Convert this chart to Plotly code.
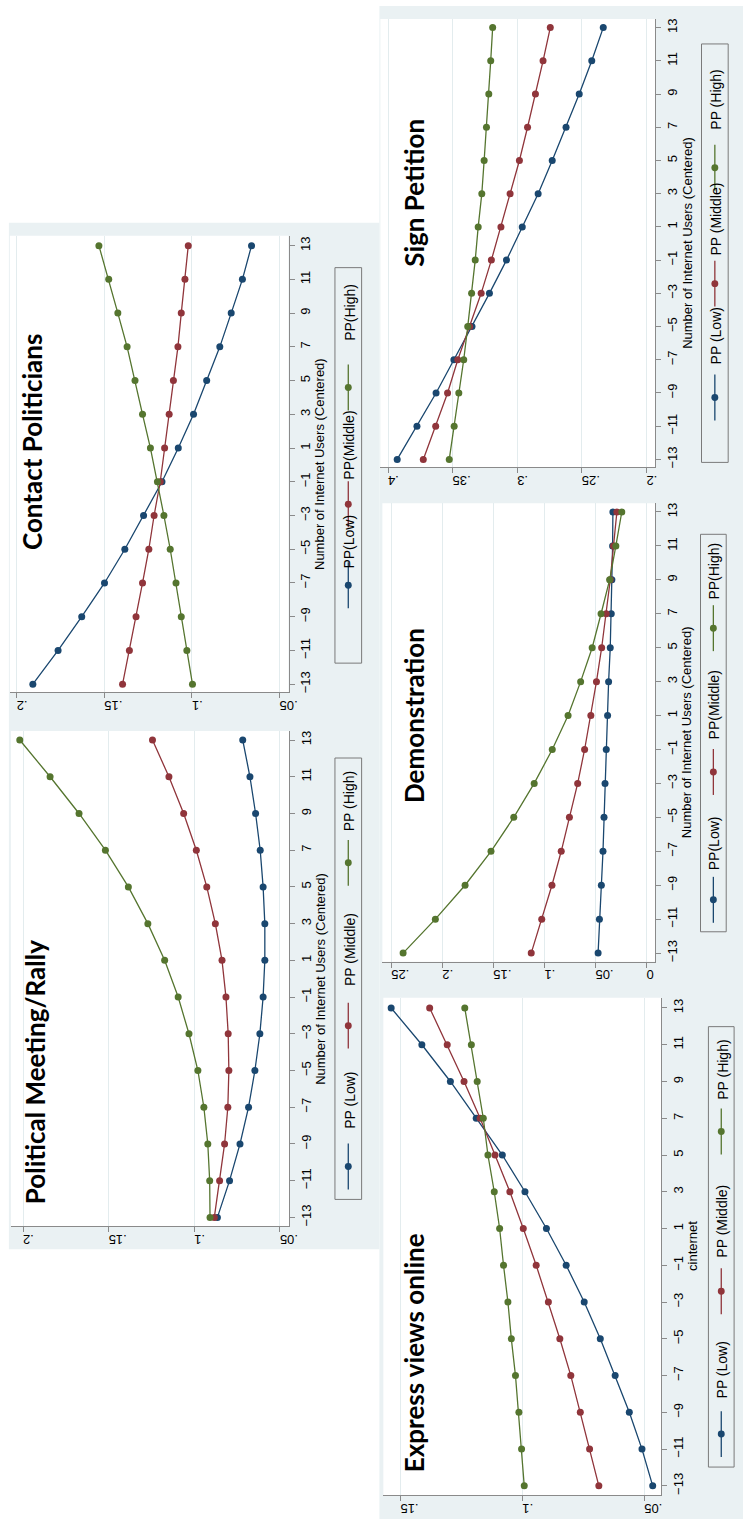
import plotly.graph_objects as go

# ---------------------------------------------------------------- data
internet = [-13, -11, -9, -7, -5, -3, -1, 1, 3, 5, 7, 9, 11, 13]

rally_low = [.0865, .0794, .0733, .0683, .0646, .0617, .0598, .0588, .0588, .0598, .0615, .0642, .0675, .0717]
rally_mid = [.0883, .0852, .0823, .0804, .0798, .0802, .0815, .0838, .0877, .0927, .0988, .1062, .1148, .1244]
rally_high = [.0908, .0910, .0921, .0944, .0979, .1031, .1094, .1173, .1271, .1385, .1519, .1673, .1842, .2019]

contact_low = [.1908, .1764, .1629, .1499, .1383, .1276, .1171, .1078, .0991, .0916, .0841, .0776, .0712, .0660]
contact_mid = [.1396, .1357, .1319, .1282, .1246, .1216, .1181, .1156, .1130, .1106, .1080, .1061, .1040, .1021]
contact_high = [.0997, .1029, .1061, .1091, .1124, .1160, .1197, .1237, .1282, .1325, .1370, .1423, .1475, .1531]

petition_low = [.3929, .3776, .3628, .3490, .3350, .3215, .3083, .2961, .2838, .2729, .2622, .2520, .2423, .2334]
petition_mid = [.3727, .3631, .3539, .3460, .3368, .3279, .3200, .3126, .3055, .2983, .2920, .2859, .2800, .2744]
petition_high = [.3526, .3488, .3452, .3414, .3383, .3353, .3325, .3302, .3274, .3256, .3238, .3220, .3205, .3190]

demo_low = [.0474, .0461, .0442, .0426, .0416, .0406, .0394, .0381, .0371, .0355, .0345, .0339, .0332, .0329]
demo_mid = [.1129, .1026, .0926, .0835, .0755, .0674, .0606, .0545, .0490, .0439, .0394, .0355, .0323, .0290]
demo_high = [.2384, .2068, .1777, .1523, .1300, .1100, .0923, .0768, .0645, .0532, .0445, .0361, .0300, .0242]

express_low = [.0465, .0509, .0561, .0619, .0680, .0746, .0820, .0901, .0989, .1082, .1189, .1295, .1412, .1538]
express_mid = [.0686, .0724, .0762, .0801, .0846, .0893, .0943, .0996, .1051, .1112, .1173, .1239, .1308, .1380]
express_high = [.0992, .1003, .1014, .1028, .1045, .1059, .1077, .1093, .1115, .1141, .1160, .1185, .1209, .1236]

rally_ticks = [.2, .15, .1, .05]
rally_ticktext = [".2", ".15", ".1", ".05"]
contact_ticks = [.2, .15, .1, .05]
contact_ticktext = [".2", ".15", ".1", ".05"]
petition_ticks = [.4, .35, .3, .25, .2]
petition_ticktext = [".4", ".35", ".3", ".25", ".2"]
demo_ticks = [.25, .2, .15, .1, .05, 0]
demo_ticktext = [".25", ".2", ".15", ".1", ".05", "0"]
express_ticks = [.15, .1, .05]
express_ticktext = [".15", ".1", ".05"]

internet_ticks = list(range(-13, 14, 2))

series_names_a = ["PP (Low)", "PP (Middle)", "PP (High)"]
series_names_b = ["PP(Low)", "PP(Middle)", "PP(High)"]

# ---------------------------------------------------------------- style
W, H = 752, 1520
NAVY, MAROON, FOREST = "#1a476f", "#90353b", "#55752f"
COLORS = [NAVY, MAROON, FOREST]
REGION = "#eaf1f3"
GRID = "#e3ecee"
AXIS = "#8a8a8a"
TXT_FONT = "Liberation Sans, Arial, sans-serif"
TITLE_FONT = "Lato, Open Sans, sans-serif"


def px(x):
    return x / W


def py(y):
    return 1 - y / H


# The page holds five panels turned a quarter turn counter-clockwise:
# the outcome axis runs right-to-left along the bottom, the internet
# axis runs upward on the right side.
panels = [
    dict(title="Contact Politicians", series=(contact_low, contact_mid, contact_high),
         ticks=contact_ticks, ticktext=contact_ticktext, names=series_names_b,
         box=(10, 292, 235, 692), xr=(0.2039, 0.0449), yr=(-13.47, 13.59),
         title_pos=(33, 442), axis_title="Number of Internet Users (Centered)",
         legend_box=(339, 366, 267, 663), keys=(585, 504, 387), texts=(541, 445, 312)),
    dict(title="Political Meeting/Rally", series=(rally_low, rally_mid, rally_high),
         ticks=rally_ticks, ticktext=rally_ticktext, names=series_names_a,
         box=(11, 293, 731, 1227), xr=(0.2071, 0.0444), yr=(-13.49, 13.49),
         title_pos=(35, 1073), axis_title="Number of Internet Users (Centered)",
         legend_box=(339, 366, 758, 1200), keys=(1167, 1026, 863), texts=(1101, 950, 801)),
    dict(title="Sign Petition", series=(petition_low, petition_mid, petition_high),
         ticks=petition_ticks, ticktext=petition_ticktext, names=series_names_a,
         box=(385, 663, 18, 467), xr=(0.4059, 0.1933), yr=(-13.48, 13.52),
         title_pos=(419, 192), axis_title="Number of Internet Users (Centered)",
         legend_box=(710, 737, 43, 462), keys=(397, 283, 167), texts=(335, 218, 99)),
    dict(title="Demonstration", series=(demo_low, demo_mid, demo_high),
         ticks=demo_ticks, ticktext=demo_ticktext, names=series_names_b,
         box=(387, 663, 503, 962), xr=(0.2587, -0.0084), yr=(-13.51, 13.51),
         title_pos=(419, 715), axis_title="Number of Internet Users (Centered)",
         legend_box=(709, 735, 534, 932), keys=(900, 772, 628), texts=(843, 705, 571)),
    dict(title="Express views online", series=(express_low, express_mid, express_high),
         ticks=express_ticks, ticktext=express_ticktext, names=series_names_a,
         box=(388, 669, 998, 1496), xr=(0.157, 0.0431), yr=(-13.5, 13.56),
         title_pos=(419, 1353), axis_title="cinternet",
         legend_box=(717, 743, 1027, 1468), keys=(1435, 1292, 1132), texts=(1371, 1222, 1070)),
]

fig = go.Figure()
shapes = [
    # graph-region backgrounds of the two columns
    dict(type="rect", xref="paper", yref="paper", x0=px(9), x1=px(384), y0=py(1250), y1=py(222),
         fillcolor=REGION, line_width=0, layer="below"),
    dict(type="rect", xref="paper", yref="paper", x0=px(384), x1=px(752), y0=py(1520), y1=py(5),
         fillcolor=REGION, line_width=0, layer="below"),
]
annotations = []
layout_axes = {}

for i, p in enumerate(panels, start=1):
    xa, ya = f"x{i}", f"y{i}"
    x0, x1, y0, y1 = p["box"]
    shapes.append(dict(type="rect", xref="paper", yref="paper", x0=px(x0), x1=px(x1),
                       y0=py(y1), y1=py(y0), fillcolor="white", line_width=0, layer="below"))

    for vals, col, name in zip(p["series"], COLORS, p["names"]):
        fig.add_trace(go.Scatter(
            x=vals, y=internet, xaxis=xa, yaxis=ya, mode="lines+markers", name=name,
            line=dict(color=col, width=1.3), marker=dict(color=col, size=7),
            showlegend=False, hoverinfo="skip"))

    layout_axes[f"xaxis{i}"] = dict(
        domain=[px(x0), px(x1)], range=list(p["xr"]), anchor=ya,
        tickvals=p["ticks"], ticktext=p["ticktext"], tickangle=180,
        tickfont=dict(family=TXT_FONT, size=13, color="black"),
        showgrid=True, gridcolor=GRID, gridwidth=1, zeroline=False,
        showline=True, linecolor=AXIS, linewidth=1,
        ticks="outside", ticklen=5, tickcolor=AXIS, fixedrange=True)
    layout_axes[f"yaxis{i}"] = dict(
        domain=[py(y1), py(y0)], range=list(p["yr"]), anchor=xa, side="right",
        tickvals=internet_ticks, tickangle=-90,
        tickfont=dict(family=TXT_FONT, size=13, color="black"),
        showgrid=False, zeroline=False, showline=True, linecolor=AXIS, linewidth=1,
        ticks="outside", ticklen=5, tickcolor=AXIS, fixedrange=True)

    # panel title
    tx, ty = p["title_pos"]
    annotations.append(dict(
        text=p["title"], x=px(tx), y=py(ty), xref="paper", yref="paper",
        textangle=-90, showarrow=False, xanchor="center", yanchor="middle",
        font=dict(family=TITLE_FONT, size=26, color="black", weight="bold")))

    # internet-axis title
    annotations.append(dict(
        text=p["axis_title"], x=px(x1 + 32), y=py((y0 + y1) / 2), xref="paper", yref="paper",
        textangle=-90, showarrow=False, xanchor="center", yanchor="middle",
        font=dict(family=TXT_FONT, size=13, color="black")))

    # legend: bordered box with a key (line + dot) and a label per series
    lx0, lx1, ly0, ly1 = p["legend_box"]
    shapes.append(dict(type="rect", xref="paper", yref="paper", x0=px(lx0), x1=px(lx1),
                       y0=py(ly1), y1=py(ly0), fillcolor=REGION,
                       line=dict(color="#7a7a7a", width=1), layer="above"))
    cx = (lx0 + lx1) / 2
    for kc, tc, col, name in zip(p["keys"], p["texts"], COLORS, p["names"]):
        shapes.append(dict(type="line", xref="paper", yref="paper", x0=px(cx), x1=px(cx),
                           y0=py(kc + 23), y1=py(kc - 23), line=dict(color=col, width=1.3),
                           layer="above"))
        shapes.append(dict(type="circle", xref="paper", yref="paper",
                           x0=px(cx - 3.5), x1=px(cx + 3.5), y0=py(kc + 3.5), y1=py(kc - 3.5),
                           fillcolor=col, line=dict(color=col, width=0), layer="above"))
        annotations.append(dict(
            text=name, x=px(cx + 1), y=py(tc), xref="paper", yref="paper",
            textangle=-90, showarrow=False, xanchor="center", yanchor="middle",
            font=dict(family=TXT_FONT, size=14, color="black")))

fig.update_layout(
    width=W, height=H, margin=dict(l=0, r=0, t=0, b=0),
    paper_bgcolor="white", plot_bgcolor="rgba(0,0,0,0)",
    showlegend=False, shapes=shapes, annotations=annotations, **layout_axes)

fig.write_html("out.html", config={"displayModeBar": False})
